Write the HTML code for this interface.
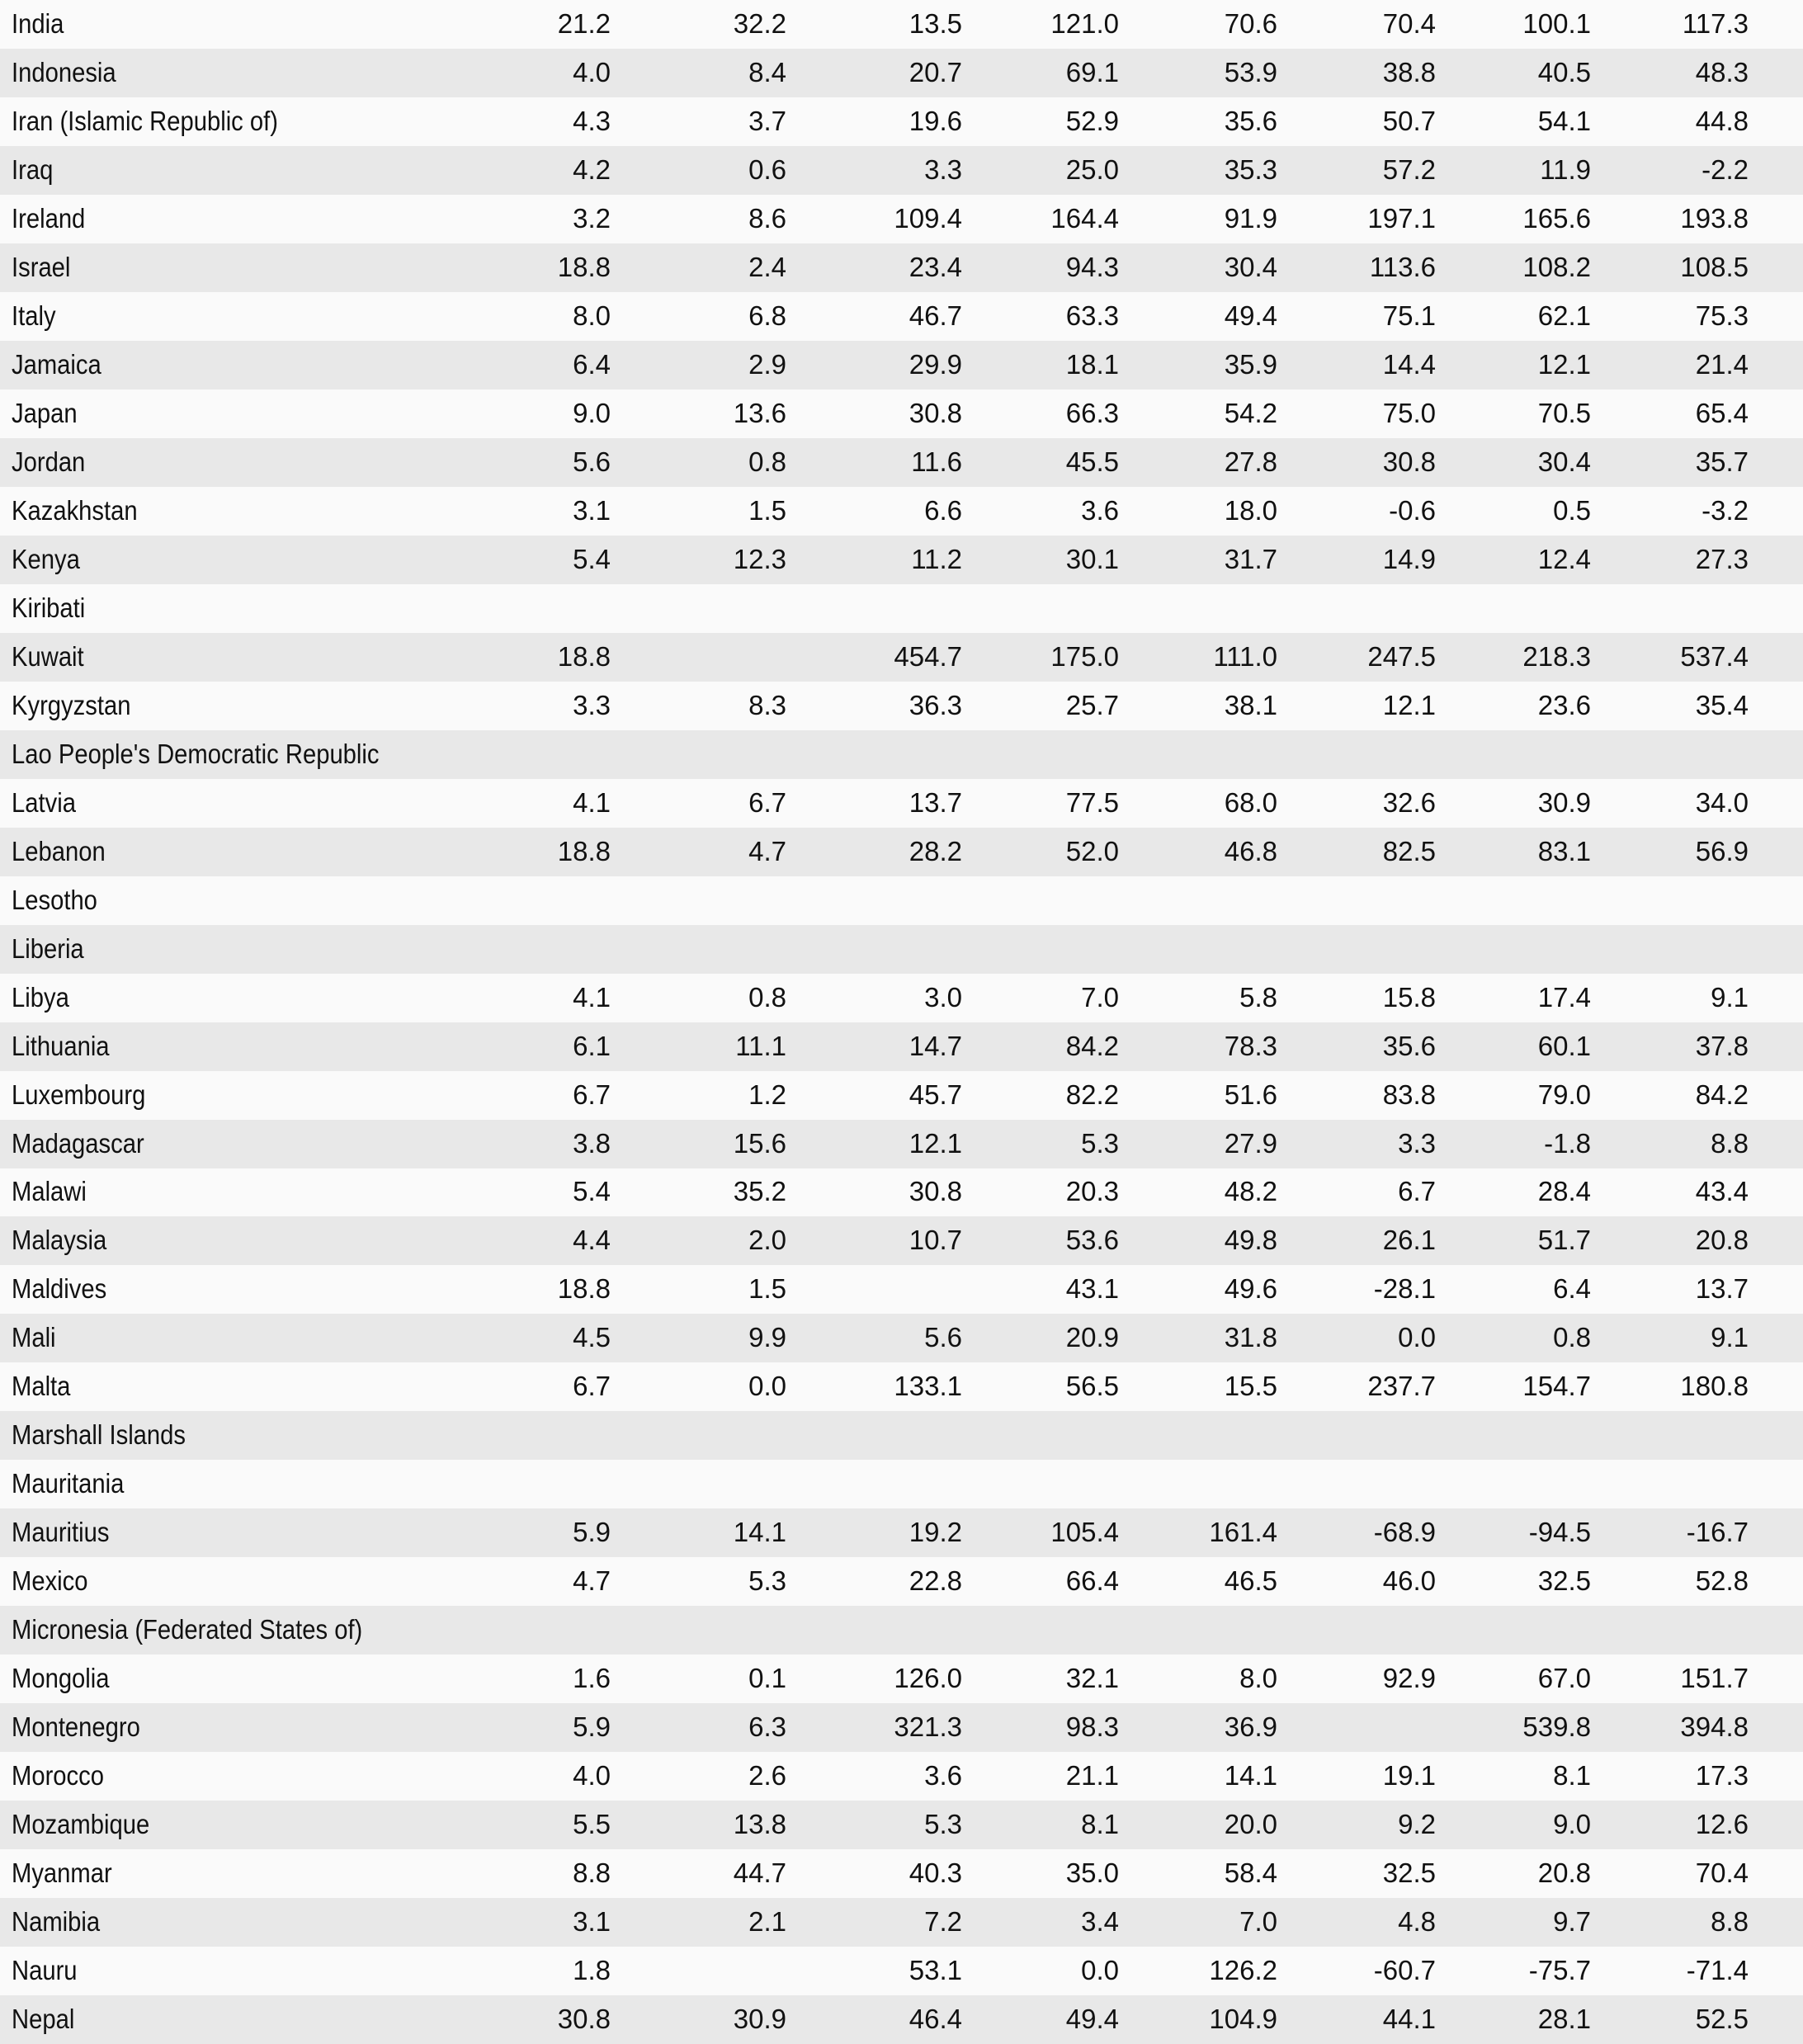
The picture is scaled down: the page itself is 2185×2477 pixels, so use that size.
<!DOCTYPE html>
<html><head><meta charset="utf-8"><style>
html,body{margin:0;padding:0;background:#fafafa;}
body{width:2185px;height:2477px;overflow:hidden;font-family:"Liberation Sans",sans-serif;color:#111;font-size:33px;}
.r{position:absolute;left:0;width:2185px;height:59px;}
.g{background:#e8e8e8;}
.r span{position:absolute;top:-1px;line-height:59px;white-space:nowrap;}
.n{left:14px;transform:scaleX(0.885);transform-origin:left center;}
.v{text-align:right;width:200px;}
</style></head><body>
<div id="t"></div>
<script>
var rows=[
["India","21.2","32.2","13.5","121.0","70.6","70.4","100.1","117.3"],
["Indonesia","4.0","8.4","20.7","69.1","53.9","38.8","40.5","48.3"],
["Iran (Islamic Republic of)","4.3","3.7","19.6","52.9","35.6","50.7","54.1","44.8"],
["Iraq","4.2","0.6","3.3","25.0","35.3","57.2","11.9","-2.2"],
["Ireland","3.2","8.6","109.4","164.4","91.9","197.1","165.6","193.8"],
["Israel","18.8","2.4","23.4","94.3","30.4","113.6","108.2","108.5"],
["Italy","8.0","6.8","46.7","63.3","49.4","75.1","62.1","75.3"],
["Jamaica","6.4","2.9","29.9","18.1","35.9","14.4","12.1","21.4"],
["Japan","9.0","13.6","30.8","66.3","54.2","75.0","70.5","65.4"],
["Jordan","5.6","0.8","11.6","45.5","27.8","30.8","30.4","35.7"],
["Kazakhstan","3.1","1.5","6.6","3.6","18.0","-0.6","0.5","-3.2"],
["Kenya","5.4","12.3","11.2","30.1","31.7","14.9","12.4","27.3"],
["Kiribati","","","","","","","",""],
["Kuwait","18.8","","454.7","175.0","111.0","247.5","218.3","537.4"],
["Kyrgyzstan","3.3","8.3","36.3","25.7","38.1","12.1","23.6","35.4"],
["Lao People's Democratic Republic","","","","","","","",""],
["Latvia","4.1","6.7","13.7","77.5","68.0","32.6","30.9","34.0"],
["Lebanon","18.8","4.7","28.2","52.0","46.8","82.5","83.1","56.9"],
["Lesotho","","","","","","","",""],
["Liberia","","","","","","","",""],
["Libya","4.1","0.8","3.0","7.0","5.8","15.8","17.4","9.1"],
["Lithuania","6.1","11.1","14.7","84.2","78.3","35.6","60.1","37.8"],
["Luxembourg","6.7","1.2","45.7","82.2","51.6","83.8","79.0","84.2"],
["Madagascar","3.8","15.6","12.1","5.3","27.9","3.3","-1.8","8.8"],
["Malawi","5.4","35.2","30.8","20.3","48.2","6.7","28.4","43.4"],
["Malaysia","4.4","2.0","10.7","53.6","49.8","26.1","51.7","20.8"],
["Maldives","18.8","1.5","","43.1","49.6","-28.1","6.4","13.7"],
["Mali","4.5","9.9","5.6","20.9","31.8","0.0","0.8","9.1"],
["Malta","6.7","0.0","133.1","56.5","15.5","237.7","154.7","180.8"],
["Marshall Islands","","","","","","","",""],
["Mauritania","","","","","","","",""],
["Mauritius","5.9","14.1","19.2","105.4","161.4","-68.9","-94.5","-16.7"],
["Mexico","4.7","5.3","22.8","66.4","46.5","46.0","32.5","52.8"],
["Micronesia (Federated States of)","","","","","","","",""],
["Mongolia","1.6","0.1","126.0","32.1","8.0","92.9","67.0","151.7"],
["Montenegro","5.9","6.3","321.3","98.3","36.9","","539.8","394.8"],
["Morocco","4.0","2.6","3.6","21.1","14.1","19.1","8.1","17.3"],
["Mozambique","5.5","13.8","5.3","8.1","20.0","9.2","9.0","12.6"],
["Myanmar","8.8","44.7","40.3","35.0","58.4","32.5","20.8","70.4"],
["Namibia","3.1","2.1","7.2","3.4","7.0","4.8","9.7","8.8"],
["Nauru","1.8","","53.1","0.0","126.2","-60.7","-75.7","-71.4"],
["Nepal","30.8","30.9","46.4","49.4","104.9","44.1","28.1","52.5"]];
var rx=[740,953,1166,1356,1548,1740,1928,2119];
var h="",rh=2477/42;
rows.forEach(function(r,i){
 h+='<div class="r'+(i%2?' g':'')+'" style="top:'+(i*rh).toFixed(1)+'px"><span class="n">'+r[0]+'</span>';
 for(var j=1;j<9;j++) if(r[j]) h+='<span class="v" style="left:'+(rx[j-1]-200)+'px">'+r[j]+'</span>';
 h+='</div>';
});
document.getElementById('t').innerHTML=h;
</script>
</body></html>
